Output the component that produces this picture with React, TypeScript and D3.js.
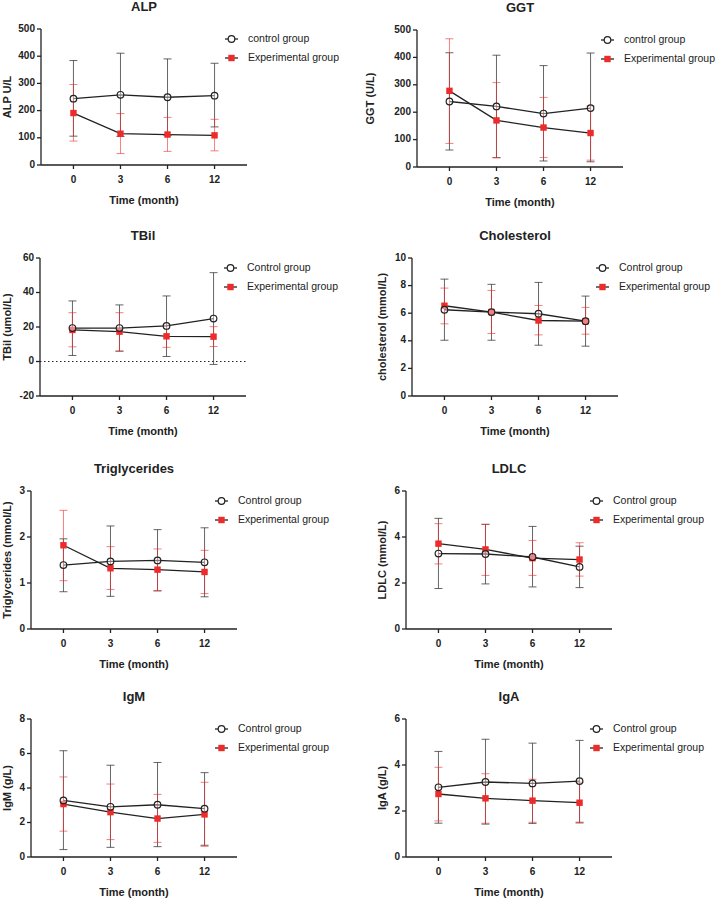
import React from "react";
import * as d3 from "d3";

const months = ["0", "3", "6", "12"];
const groupNames = ["Control group", "Experimental group"];
const groupNamesLower = ["control group", "Experimental group"];

// ALP
const alpCtrl = [244, 258, 249, 255];
const alpCtrlHi = [384, 411, 390, 374];
const alpCtrlLo = [106, 105, 108, 140];
const alpExp = [191, 115, 112, 109];
const alpExpHi = [296, 189, 175, 168];
const alpExpLo = [88, 42, 50, 52];
const alpTicks = [0, 100, 200, 300, 400, 500];

// GGT
const ggtCtrl = [239, 221, 195, 215];
const ggtCtrlHi = [417, 408, 370, 416];
const ggtCtrlLo = [62, 34, 22, 19];
const ggtExp = [278, 170, 144, 124];
const ggtExpHi = [468, 308, 254, 223];
const ggtExpLo = [86, 34, 35, 25];
const ggtTicks = [0, 100, 200, 300, 400, 500];

// TBil
const tbilCtrl = [19.4, 19.4, 20.6, 24.9];
const tbilCtrlHi = [35.1, 32.8, 38.0, 51.5];
const tbilCtrlLo = [3.5, 6.0, 2.9, -1.7];
const tbilExp = [18.3, 17.3, 14.6, 14.4];
const tbilExpHi = [28.3, 28.3, 21.0, 20.2];
const tbilExpLo = [8.5, 6.0, 8.2, 8.7];
const tbilTicks = [-20, 0, 20, 40, 60];

// Cholesterol
const cholCtrl = [6.25, 6.08, 5.96, 5.42];
const cholCtrlHi = [8.47, 8.09, 8.23, 7.24];
const cholCtrlLo = [4.04, 4.04, 3.68, 3.61];
const cholExp = [6.54, 6.08, 5.47, 5.42];
const cholExpHi = [7.82, 7.65, 6.56, 6.42];
const cholExpLo = [5.23, 4.53, 4.43, 4.48];
const cholTicks = [0, 2, 4, 6, 8, 10];

// Triglycerides
const trigCtrl = [1.39, 1.47, 1.49, 1.45];
const trigCtrlHi = [1.96, 2.24, 2.16, 2.2];
const trigCtrlLo = [0.81, 0.71, 0.83, 0.7];
const trigExp = [1.82, 1.32, 1.29, 1.24];
const trigExpHi = [2.58, 1.79, 1.74, 1.71];
const trigExpLo = [1.05, 0.86, 0.83, 0.77];
const trigTicks = [0, 1, 2, 3];

// LDLC
const ldlCtrl = [3.28, 3.26, 3.13, 2.7];
const ldlCtrlHi = [4.81, 4.55, 4.46, 3.6];
const ldlCtrlLo = [1.76, 1.96, 1.83, 1.8];
const ldlExp = [3.71, 3.46, 3.08, 3.02];
const ldlExpHi = [4.58, 4.55, 3.85, 3.75];
const ldlExpLo = [2.83, 2.33, 2.33, 2.3];
const ldlTicks = [0, 2, 4, 6];

// IgM
const igmCtrl = [3.28, 2.91, 3.03, 2.8];
const igmCtrlHi = [6.16, 5.32, 5.48, 4.89];
const igmCtrlLo = [0.43, 0.56, 0.6, 0.68];
const igmExp = [3.07, 2.6, 2.23, 2.47];
const igmExpHi = [4.64, 4.23, 3.63, 4.33];
const igmExpLo = [1.5, 1.01, 0.85, 0.62];
const igmTicks = [0, 2, 4, 6, 8];

// IgA
const igaCtrl = [3.03, 3.26, 3.2, 3.3];
const igaCtrlHi = [4.59, 5.12, 4.95, 5.07];
const igaCtrlLo = [1.47, 1.43, 1.46, 1.51];
const igaExp = [2.74, 2.55, 2.45, 2.36];
const igaExpHi = [3.9, 3.62, 3.38, 3.25];
const igaExpLo = [1.57, 1.47, 1.51, 1.47];
const igaTicks = [0, 2, 4, 6];

type Panel = {
  title: string;
  yLabel: string;
  ticks: number[];
  ctrl: number[]; ctrlHi: number[]; ctrlLo: number[];
  exp: number[]; expHi: number[]; expLo: number[];
  legend: string[];
  axisX: number; top: number; bottom: number; yLabelX: number;
  zeroLine?: boolean;
};

const panels: Panel[] = [
  { title: "ALP", yLabel: "ALP  U/L", ticks: alpTicks, ctrl: alpCtrl, ctrlHi: alpCtrlHi, ctrlLo: alpCtrlLo, exp: alpExp, expHi: alpExpHi, expLo: alpExpLo, legend: groupNamesLower, axisX: 41, top: 29, bottom: 165, yLabelX: 8 },
  { title: "GGT", yLabel: "GGT (U/L)", ticks: ggtTicks, ctrl: ggtCtrl, ctrlHi: ggtCtrlHi, ctrlLo: ggtCtrlLo, exp: ggtExp, expHi: ggtExpHi, expLo: ggtExpLo, legend: groupNamesLower, axisX: 417, top: 30, bottom: 167, yLabelX: 371 },
  { title: "TBil", yLabel: "TBil (umol/L)", ticks: tbilTicks, ctrl: tbilCtrl, ctrlHi: tbilCtrlHi, ctrlLo: tbilCtrlLo, exp: tbilExp, expHi: tbilExpHi, expLo: tbilExpLo, legend: groupNames, axisX: 40, top: 258, bottom: 396, yLabelX: 8, zeroLine: true },
  { title: "Cholesterol", yLabel: "cholesterol (mmol/L)", ticks: cholTicks, ctrl: cholCtrl, ctrlHi: cholCtrlHi, ctrlLo: cholCtrlLo, exp: cholExp, expHi: cholExpHi, expLo: cholExpLo, legend: groupNames, axisX: 412, top: 258, bottom: 396, yLabelX: 383 },
  { title: "Triglycerides", yLabel: "Triglycerides (mmol/L)", ticks: trigTicks, ctrl: trigCtrl, ctrlHi: trigCtrlHi, ctrlLo: trigCtrlLo, exp: trigExp, expHi: trigExpHi, expLo: trigExpLo, legend: groupNames, axisX: 31, top: 491, bottom: 629, yLabelX: 8 },
  { title: "LDLC", yLabel: "LDLC (mmol/L)", ticks: ldlTicks, ctrl: ldlCtrl, ctrlHi: ldlCtrlHi, ctrlLo: ldlCtrlLo, exp: ldlExp, expHi: ldlExpHi, expLo: ldlExpLo, legend: groupNames, axisX: 406, top: 491, bottom: 629, yLabelX: 383 },
  { title: "IgM", yLabel: "IgM (g/L)", ticks: igmTicks, ctrl: igmCtrl, ctrlHi: igmCtrlHi, ctrlLo: igmCtrlLo, exp: igmExp, expHi: igmExpHi, expLo: igmExpLo, legend: groupNames, axisX: 31, top: 719, bottom: 857, yLabelX: 8 },
  { title: "IgA", yLabel: "IgA (g/L)", ticks: igaTicks, ctrl: igaCtrl, ctrlHi: igaCtrlHi, ctrlLo: igaCtrlLo, exp: igaExp, expHi: igaExpHi, expLo: igaExpLo, legend: groupNames, axisX: 406, top: 719, bottom: 857, yLabelX: 383 },
];

const FONT = "'Liberation Sans', Arial, Helvetica, sans-serif";
const RED = "#ee2b2b";
const AXIS_W = 206;

function PanelChart({ p }: { p: Panel }) {
  const x = d3.scalePoint<string>().domain(months).range([p.axisX, p.axisX + AXIS_W]).padding(0.69);
  const y = d3.scaleLinear().domain([p.ticks[0], p.ticks[p.ticks.length - 1]]).range([p.bottom, p.top]);
  const line = d3.line<number>().x((_, i) => x(months[i]) as number).y((v) => y(v));
  const cx = p.axisX + AXIS_W / 2;
  const cap = 4;
  const errBars = (vals: number[], hi: number[], lo: number[], color: string, op: number, key: string) =>
    vals.map((_, i) => {
      const px = x(months[i]) as number;
      return (
        <g key={key + i} stroke={color} strokeOpacity={op} strokeWidth={1} fill="none">
          <line x1={px} x2={px} y1={y(hi[i])} y2={y(lo[i])} />
          <line x1={px - cap} x2={px + cap} y1={y(hi[i])} y2={y(hi[i])} />
          <line x1={px - cap} x2={px + cap} y1={y(lo[i])} y2={y(lo[i])} />
        </g>
      );
    });
  const legX = p.axisX + AXIS_W;
  const legY = [p.top + 10, p.top + 29];
  return (
    <g fontFamily={FONT}>
      <text x={cx} y={p.top - 21} textAnchor="middle" dominantBaseline="middle" fontSize={13} fontWeight="bold" fill="#222">{p.title}</text>
      {/* axes */}
      <line x1={p.axisX} x2={p.axisX} y1={p.top} y2={p.bottom} stroke="#222" strokeWidth={1.3} />
      <line x1={p.axisX} x2={p.axisX + AXIS_W} y1={p.bottom} y2={p.bottom} stroke="#222" strokeWidth={1.3} />
      {p.ticks.map((t) => (
        <g key={"yt" + t}>
          <line x1={p.axisX - 4} x2={p.axisX} y1={y(t)} y2={y(t)} stroke="#222" strokeWidth={1.3} />
          <text x={p.axisX - 6} y={y(t)} textAnchor="end" dominantBaseline="middle" fontSize={10} fontWeight="bold" fill="#222">{t}</text>
        </g>
      ))}
      {months.map((m) => (
        <g key={"xt" + m}>
          <line x1={x(m)} x2={x(m)} y1={p.bottom} y2={p.bottom + 4} stroke="#222" strokeWidth={1.3} />
          <text x={x(m)} y={p.bottom + 15} textAnchor="middle" dominantBaseline="middle" fontSize={10} fontWeight="bold" fill="#222">{m}</text>
        </g>
      ))}
      <text x={cx} y={p.bottom + 36} textAnchor="middle" dominantBaseline="middle" fontSize={11} fontWeight="bold" fill="#222">Time (month)</text>
      <text transform={`translate(${p.yLabelX},${(p.top + p.bottom) / 2}) rotate(-90)`} textAnchor="middle" dominantBaseline="middle" fontSize={11} fontWeight="bold" fill="#222">{p.yLabel}</text>
      {p.zeroLine && (
        <line x1={p.axisX} x2={p.axisX + AXIS_W} y1={y(0)} y2={y(0)} stroke="#222" strokeWidth={1.2} strokeDasharray="1.5,2.5" />
      )}
      {errBars(p.ctrl, p.ctrlHi, p.ctrlLo, "#333", 0.75, "ce")}
      {errBars(p.exp, p.expHi, p.expLo, RED, 0.6, "ee")}
      <path d={line(p.ctrl) || ""} fill="none" stroke="#222" strokeWidth={1.3} />
      <path d={line(p.exp) || ""} fill="none" stroke="#222" strokeWidth={1.3} />
      {p.exp.map((v, i) => (
        <rect key={"es" + i} x={(x(months[i]) as number) - 3.2} y={y(v) - 3.2} width={6.4} height={6.4} fill={RED} />
      ))}
      {p.ctrl.map((v, i) => (
        <circle key={"cc" + i} cx={x(months[i]) as number} cy={y(v)} r={3.3} fill="white" fillOpacity={0.4} stroke="#222" strokeWidth={1.2} />
      ))}
      {/* legend */}
      <line x1={legX - 22} x2={legX - 9} y1={legY[0]} y2={legY[0]} stroke="#222" strokeWidth={1.3} />
      <circle cx={legX - 15.5} cy={legY[0]} r={3.3} fill="white" stroke="#222" strokeWidth={1.2} />
      <text x={legX + 1} y={legY[0]} dominantBaseline="middle" fontSize={10.5} fill="#222">{p.legend[0]}</text>
      <line x1={legX - 22} x2={legX - 9} y1={legY[1]} y2={legY[1]} stroke="#222" strokeWidth={1.3} />
      <rect x={legX - 18.7} y={legY[1] - 3.2} width={6.4} height={6.4} fill={RED} />
      <text x={legX + 1} y={legY[1]} dominantBaseline="middle" fontSize={10.5} fill="#222">{p.legend[1]}</text>
    </g>
  );
}

export default function App() {
  return (
    <svg width={722} height={900} style={{ position: "absolute", left: 0, top: 0, background: "white" }}>
      <rect width={722} height={900} fill="white" />
      {panels.map((p) => (
        <PanelChart key={p.title} p={p} />
      ))}
    </svg>
  );
}
